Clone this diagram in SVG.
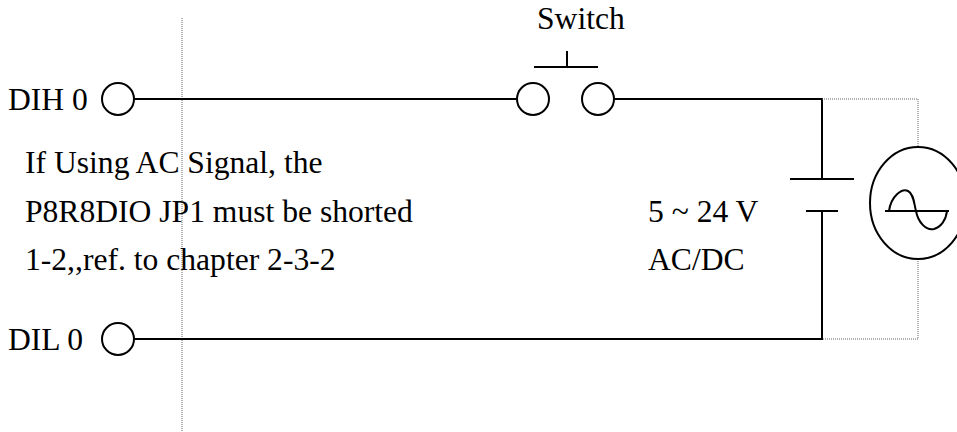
<svg xmlns="http://www.w3.org/2000/svg" width="957" height="432" viewBox="0 0 957 432">
<style>
.t{font-family:"Liberation Serif","Times New Roman",serif;font-size:31.6px;fill:#000}
.w{fill:none;stroke:#000;stroke-width:2}
.d{fill:none;stroke:#666;stroke-width:1;stroke-dasharray:1,1}
</style>
<rect width="957" height="432" fill="#fff"/>
<g id="guides">
<line class="d" x1="182" y1="18" x2="182" y2="432"/>
</g>
<g id="connectors">
<line class="w" x1="134" y1="99" x2="517" y2="99"/>
<polyline class="w" points="614,99 822,99 822,179"/>
<polyline class="w" points="822,211 822,339 134,339"/>
<polyline class="d" points="822,99 918,99 918,146.5"/>
<polyline class="d" points="918,259 918,339 822,339"/>
</g>
<g id="dih0">
<circle class="w" cx="118" cy="99" r="16"/>
<text class="t" x="8" y="110">DIH 0</text>
</g>
<g id="dil0">
<circle class="w" cx="118" cy="339" r="16"/>
<text class="t" x="8" y="350">DIL 0</text>
</g>
<g id="switch">
<circle class="w" cx="533" cy="99" r="16"/>
<circle class="w" cx="598" cy="99" r="16"/>
<line class="w" x1="534" y1="67" x2="598" y2="67"/>
<line class="w" x1="567" y1="51" x2="567" y2="67"/>
<text class="t" x="537" y="29">Switch</text>
</g>
<g id="battery">
<line class="w" x1="790" y1="179" x2="854" y2="179"/>
<line class="w" x1="806" y1="211" x2="838" y2="211"/>
<text class="t" x="648" y="221.5">5 ~ 24 V</text>
<text class="t" x="648" y="270">AC/DC</text>
</g>
<g id="ac-source">
<ellipse class="w" cx="918" cy="203" rx="48" ry="56"/>
<line class="w" x1="885" y1="211" x2="949" y2="211"/>
<path class="w" d="M889,211 C891,196 902,188 908,191 C914,194 914,204 916,211 C918,222 926,231 934,229 C941,227 946,220 947,211"/>
</g>
<g id="note">
<text class="t" x="25" y="173">If Using AC Signal, the</text>
<text class="t" x="25" y="221.5">P8R8DIO JP1 must be shorted</text>
<text class="t" x="25" y="270">1-2,,ref. to chapter 2-3-2</text>
</g>
</svg>
